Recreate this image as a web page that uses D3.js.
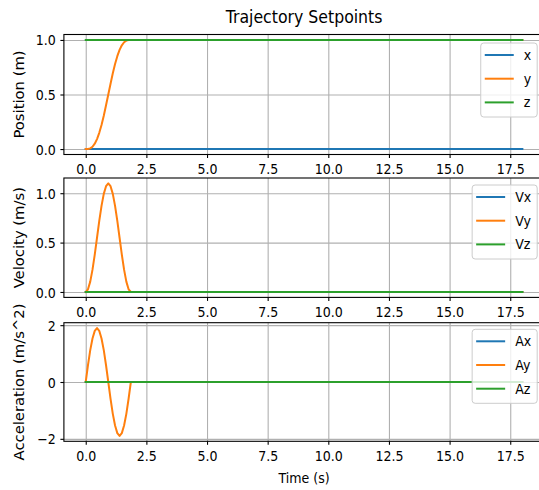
<!DOCTYPE html>
<html>
<head>
<meta charset="utf-8">
<script src="https://cdn.jsdelivr.net/npm/d3@7"></script>
<style>
  html, body { margin: 0; padding: 0; background: #fff; overflow: hidden; }
  svg { display: block; }
</style>
</head>
<body>
<svg id="chart" width="539" height="490"></svg>
<script>
// Sample times (s); the move lasts about 1.86 s, then everything holds until 18 s.
const time = [0, 0.093, 0.186, 0.279, 0.372, 0.465, 0.558, 0.651, 0.744, 0.837, 0.93,
              1.023, 1.116, 1.209, 1.302, 1.395, 1.488, 1.581, 1.674, 1.767, 1.86, 18];

// Position setpoints (m)
const posX = [0, 0, 0, 0, 0, 0, 0, 0, 0, 0, 0, 0, 0, 0, 0, 0, 0, 0, 0, 0, 0, 0];
const posY = [0, 0.001, 0.006, 0.021, 0.049, 0.091, 0.149, 0.221, 0.306, 0.401, 0.5,
              0.599, 0.694, 0.779, 0.851, 0.909, 0.951, 0.979, 0.994, 0.999, 1, 1];
const posZ = [1, 1, 1, 1, 1, 1, 1, 1, 1, 1, 1, 1, 1, 1, 1, 1, 1, 1, 1, 1, 1, 1];

// Velocity setpoints (m/s)
const velX = [0, 0, 0, 0, 0, 0, 0, 0, 0, 0, 0, 0, 0, 0, 0, 0, 0, 0, 0, 0, 0, 0];
const velY = [0, 0.027, 0.105, 0.226, 0.379, 0.549, 0.719, 0.872, 0.993, 1.071, 1.099,
              1.071, 0.993, 0.872, 0.719, 0.549, 0.379, 0.226, 0.105, 0.027, 0, 0];
const velZ = [0, 0, 0, 0, 0, 0, 0, 0, 0, 0, 0, 0, 0, 0, 0, 0, 0, 0, 0, 0, 0, 0];

// Acceleration setpoints (m/s^2)
const accX = [0, 0, 0, 0, 0, 0, 0, 0, 0, 0, 0, 0, 0, 0, 0, 0, 0, 0, 0, 0, 0, 0];
const accY = [0, 0.59, 1.12, 1.53, 1.80, 1.90, 1.80, 1.53, 1.12, 0.59, 0,
              -0.59, -1.12, -1.53, -1.80, -1.90, -1.80, -1.53, -1.12, -0.59, 0, 0];
const accZ = [0, 0, 0, 0, 0, 0, 0, 0, 0, 0, 0, 0, 0, 0, 0, 0, 0, 0, 0, 0, 0, 0];

const timeTicks = [0, 2.5, 5, 7.5, 10, 12.5, 15, 17.5];
const posTicks = [0, 0.5, 1.0];
const velTicks = [0, 0.5, 1.0];
const accTicks = [-2, 0, 2];

const posNames = ["x", "y", "z"];
const velNames = ["Vx", "Vy", "Vz"];
const accNames = ["Ax", "Ay", "Az"];
const colors = ["#1f77b4", "#ff7f0e", "#2ca02c"];

// ---- drawing ----
const FONT = "DejaVu Sans, sans-serif";
const SX = 0.9;          // horizontal glyph squeeze of the figure
const FS = 14;           // tick / label font size
const svg = d3.select("#chart");

const x = d3.scaleLinear().domain([-0.9, 18.9]).range([63.9, 544.2]);

const panels = [
  { top: 34.5, bottom: 154.5, domain: [-0.05, 1.05], ticks: posTicks, fmt: d3.format(".1f"),
    label: "Position (m)", names: posNames, series: [posX, posY, posZ], legendTop: 8.5 },
  { top: 178, bottom: 297.4, domain: [-0.055, 1.154], ticks: velTicks, fmt: d3.format(".1f"),
    label: "Velocity (m/s)", names: velNames, series: [velX, velY, velZ], legendTop: 7 },
  { top: 322.7, bottom: 441.3, domain: [-2.087, 2.087], ticks: accTicks, fmt: d3.format("d"),
    label: "Acceleration (m/s^2)", names: accNames, series: [accX, accY, accZ], legendTop: 6.6 }
];

const left = x.range()[0], right = x.range()[1];

panels.forEach((p, pi) => {
  const y = d3.scaleLinear().domain(p.domain).range([p.bottom, p.top]);
  const g = svg.append("g");

  // axes background
  g.append("rect")
    .attr("x", left).attr("y", p.top)
    .attr("width", right - left).attr("height", p.bottom - p.top)
    .attr("fill", "#fff");

  // grid
  const gx = g.append("g").attr("transform", `translate(0,${p.bottom})`)
    .call(d3.axisBottom(x).tickValues(timeTicks).tickSize(-(p.bottom - p.top)).tickFormat(""));
  const gy = g.append("g").attr("transform", `translate(${left},0)`)
    .call(d3.axisLeft(y).tickValues(p.ticks).tickSize(-(right - left)).tickFormat(""));
  [gx, gy].forEach(a => {
    a.select(".domain").remove();
    a.selectAll("line").attr("stroke", "#b0b0b0").attr("stroke-width", 1.1);
  });

  // clip
  const clipId = "clip" + pi;
  svg.append("clipPath").attr("id", clipId)
    .append("rect").attr("x", left).attr("y", p.top)
    .attr("width", right - left).attr("height", p.bottom - p.top);

  const line = d3.line().x((d, i) => x(time[i])).y(d => y(d));
  const lines = g.append("g").attr("clip-path", `url(#${clipId})`);
  p.series.forEach((s, si) => {
    lines.append("path").datum(s)
      .attr("d", line)
      .attr("fill", "none")
      .attr("stroke", colors[si])
      .attr("stroke-width", 2)
      .attr("stroke-linejoin", "round")
      .attr("stroke-linecap", "square");
  });

  // spines
  g.append("rect")
    .attr("x", left).attr("y", p.top)
    .attr("width", right - left).attr("height", p.bottom - p.top)
    .attr("fill", "none").attr("stroke", "#000").attr("stroke-width", 1.1);

  // tick marks + labels
  const ax = g.append("g").attr("transform", `translate(0,${p.bottom})`)
    .call(d3.axisBottom(x).tickValues(timeTicks).tickSizeInner(3.5).tickSizeOuter(0)
      .tickFormat(d3.format(".1f")));
  ax.select(".domain").remove();
  ax.selectAll("line").attr("stroke", "#000").attr("stroke-width", 1.1);
  ax.selectAll("text")
    .attr("y", 20).attr("dy", null)
    .attr("transform", `scale(${SX},1)`)
    .attr("fill", "#000")
    .style("font-family", FONT).style("font-size", FS + "px");

  const ay = g.append("g").attr("transform", `translate(${left},0)`)
    .call(d3.axisLeft(y).tickValues(p.ticks).tickSizeInner(3.5).tickSizeOuter(0).tickFormat(p.fmt));
  ay.select(".domain").remove();
  ay.selectAll("line").attr("stroke", "#000").attr("stroke-width", 1.1);
  ay.selectAll("text")
    .attr("x", -9).attr("dy", "0.36em")
    .attr("transform", `scale(${SX},1)`)
    .attr("fill", "#000")
    .style("font-family", FONT).style("font-size", FS + "px");

  // y label
  g.append("text")
    .attr("transform", `translate(23.5,${(p.top + p.bottom) / 2}) scale(${SX},1) rotate(-90)`)
    .attr("text-anchor", "middle")
    .style("font-family", FONT).style("font-size", "14.8px")
    .text(p.label);

  // legend
  const leg = g.append("g");
  const box = leg.append("rect");
  const rowStep = 23.7;
  const lt = p.top + p.legendTop;
  let maxW = 0;
  const items = p.names.map((n, i) => ({ n, i, ry: lt + 12 + i * rowStep }));
  const texts = items.map(it => leg.append("text")
    .attr("transform", `translate(0,${it.ry + 5}) scale(${SX},1)`)
    .style("font-family", FONT).style("font-size", FS + "px")
    .text(it.n));
  texts.forEach(t => { maxW = Math.max(maxW, t.node().getComputedTextLength() * SX); });
  const boxW = 43 + maxW + 6;
  const boxR = right - 7;
  const boxL = boxR - boxW;
  box.attr("x", boxL).attr("y", lt).attr("width", boxW).attr("height", 74)
    .attr("rx", 3).attr("fill", "#fff").attr("fill-opacity", 0.8)
    .attr("stroke", "#cccccc").attr("stroke-width", 1);
  items.forEach((it, k) => {
    leg.append("line")
      .attr("x1", boxL + 4).attr("x2", boxL + 33)
      .attr("y1", it.ry).attr("y2", it.ry)
      .attr("stroke", colors[it.i]).attr("stroke-width", 2);
    texts[k].attr("transform", `translate(${boxL + 43},${it.ry + 5}) scale(${SX},1)`);
  });
});

// title and x label
svg.append("text")
  .attr("transform", `translate(${(left + right) / 2},22.5) scale(${SX},1)`)
  .attr("text-anchor", "middle")
  .style("font-family", FONT).style("font-size", "17.5px")
  .text("Trajectory Setpoints");

svg.append("text")
  .attr("transform", `translate(${(left + right) / 2},483) scale(${SX},1)`)
  .attr("text-anchor", "middle")
  .style("font-family", FONT).style("font-size", FS + "px")
  .text("Time (s)");
</script>
</body>
</html>
